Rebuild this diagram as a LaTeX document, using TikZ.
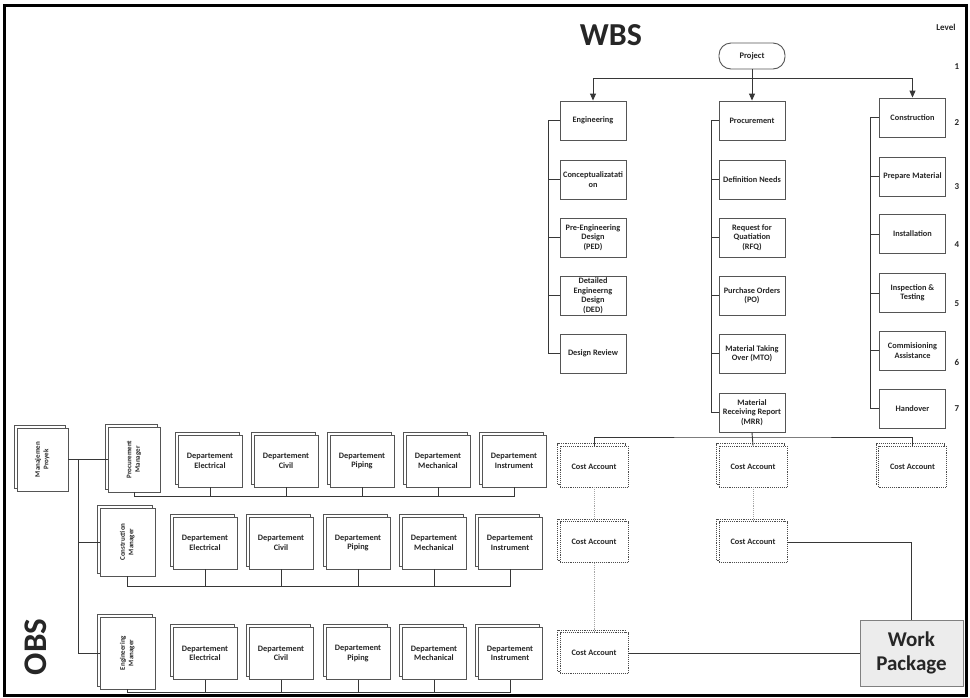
\documentclass[tikz,border=0pt]{standalone}
\usepackage{fontspec}
\setmainfont{Carlito}
\usepackage{graphicx}
\usepackage{tikz}
\usetikzlibrary{arrows.meta,shadows}
\definecolor{boxGray}{RGB}{85,85,85}
\definecolor{lineGray}{RGB}{55,55,55}
\definecolor{dotGray}{RGB}{165,165,165}
\definecolor{wpFill}{RGB}{236,236,236}
\newcommand{\vlabel}[1]{\rotatebox{90}{\begin{tabular}{@{}c@{}}#1\end{tabular}}}

\begin{document}
\begin{tikzpicture}[x=1pt, y=-1pt,
    every node/.style={font=\bfseries\fontsize{8.3}{9.5}\selectfont, text=black!85, align=center, inner sep=1pt},
    wbsbox/.style={draw=boxGray, line width=0.9pt, fill=white, minimum width=66pt, minimum height=39pt},
    pill/.style={draw=boxGray, line width=0.9pt, fill=white, rounded corners=12pt, minimum width=66pt, minimum height=26pt, font=\bfseries\fontsize{8.5}{10}\selectfont},
    deptbox/.style={draw=boxGray, line width=0.7pt, fill=white, minimum width=64pt, minimum height=52pt,
        copy shadow={shadow xshift=-3pt, shadow yshift=3pt, draw=boxGray, fill=white, line width=0.7pt}},
    mgrbox/.style={deptbox, font=\bfseries\fontsize{7}{8.5}\selectfont},
    cabox/.style={draw=black!70, densely dotted, line width=0.9pt, fill=white, minimum width=68pt, minimum height=41pt,
        copy shadow={shadow xshift=-2.5pt, shadow yshift=2.5pt, draw=black!70, densely dotted, fill=white, line width=0.9pt}},
    wpbox/.style={draw=gray, line width=1pt, fill=wpFill, minimum width=103pt, minimum height=66pt, font=\bfseries\fontsize{21}{24}\selectfont},
    conn/.style={draw=lineGray, line width=0.9pt},
    arr/.style={conn, -{Triangle[length=7pt, width=6pt]}},
    dotlink/.style={draw=dotGray, densely dotted, line width=0.9pt},
    level/.style={font=\bfseries\fontsize{9}{10}\selectfont}
]
\useasboundingbox (0,0) rectangle (970,697);
\draw[line width=3pt] (4,5) rectangle (966.5,695);

% WBS
\node[font=\bfseries\fontsize{32}{36}\selectfont] (wbs) at (611,35) {WBS};
\node[level] (lvl) at (946,27) {Level};
\foreach \y/\n in {67/1, 123/2, 187/3, 245/4, 304/5, 362/6, 409/7}
    \node[level] (lvl\n) at (957,\y) {\n};

\node[pill] (proj) at (752,56) {Project};

% Level 2
\node[wbsbox] (eng) at (593,120.5) {Engineering};
\node[wbsbox] (proc) at (752,120.5) {Procurement};
\node[wbsbox] (cons) at (912.5,117.5) {Construction};

% Engineering
\node[wbsbox] (engA) at (593,179.5) {Conceptualizatati\\on};
\node[wbsbox] (engB) at (593,237.5) {Pre-Engineering\\Design\\(PED)};
\node[wbsbox, inner sep=0pt] (engC) at (593,295.5) {Detailed\\Engineerng\\Design\\(DED)};
\node[wbsbox] (engD) at (593,353.5) {Design Review};

% Procurement
\node[wbsbox] (procA) at (752,179.5) {Definition Needs};
\node[wbsbox] (procB) at (752,237.5) {Request for\\Quatiation\\(RFQ)};
\node[wbsbox] (procC) at (752,295.5) {Purchase Orders\\(PO)};
\node[wbsbox] (procD) at (752,353.5) {Material Taking\\Over (MTO)};
\node[wbsbox] (procE) at (752,412.5) {Material\\Receiving Report\\(MRR)};

% Construction
\node[wbsbox] (consA) at (912.5,176.5) {Prepare Material};
\node[wbsbox] (consB) at (912.5,234) {Installation};
\node[wbsbox] (consC) at (912.5,293) {Inspection \&\\Testing};
\node[wbsbox] (consD) at (912.5,350.5) {Commisioning\\Assistance};
\node[wbsbox] (consE) at (912.5,408.5) {Handover};

\coordinate (wbsBus) at (752,78);
\draw[conn] (proj.south) -- (wbsBus);
\draw[arr] (wbsBus) -| (eng.north);
\draw[arr] (wbsBus) -- (proc.north);
\draw[arr] (wbsBus) -| (cons.north);

\coordinate (engSpine) at (548,0);
\coordinate (procSpine) at (711,0);
\coordinate (consSpine) at (870,0);
\draw[conn] (eng.west) -| (engSpine |- engD.west) -- (engD.west);
\foreach \n in {engA,engB,engC}
    \draw[conn] (\n.west) -- (engSpine |- \n.west);
\draw[conn] (proc.west) -| (procSpine |- procE.west) -- (procE.west);
\foreach \n in {procA,procB,procC,procD}
    \draw[conn] (\n.west) -- (procSpine |- \n.west);
\draw[conn] (cons.west) -| (consSpine |- consE.west) -- (consE.west);
\foreach \n in {consA,consB,consC,consD}
    \draw[conn] (\n.west) -- (consSpine |- \n.west);

% Cost accounts
\node[cabox] (ca11) at (594,466.5) {Cost Account};
\node[cabox] (ca12) at (753,466.5) {Cost Account};
\node[cabox] (ca13) at (912.5,466.5) {Cost Account};
\node[cabox] (ca21) at (594,542) {Cost Account};
\node[cabox] (ca22) at (753,542) {Cost Account};
\node[cabox] (ca31) at (594,653) {Cost Account};

\coordinate (caBus) at (752,437);
\draw[conn] (procE.south) -- (ca12.north);
\draw[conn] (ca11.north) |- (caBus) -| (ca13.north);
\draw[dotlink] (ca11.south) -- (ca21.north);
\draw[dotlink] (ca21.south) -- (ca31.north);
\draw[dotlink] (ca12.south) -- (ca22.north);

% Work package
\node[wpbox] (wp) at (911.5,653) {Work\\Package};
\draw[conn] (ca22.east) -| (wp.north);
\draw[conn] (ca31.east) -- (wp.west);

% OBS
\node[font=\bfseries\fontsize{33}{36}\selectfont, rotate=90] (obs) at (36,647) {OBS};
\node[mgrbox, minimum width=51pt, minimum height=63pt] (mp) at (42.5,459.5) {\vlabel{Manajemen\\Proyek}};
\node[mgrbox, minimum width=52pt, minimum height=65pt] (pm) at (134,459.5) {\vlabel{Procurement\\Manager}};
\node[mgrbox, minimum width=55pt, minimum height=68pt] (cm) at (127.5,542) {\vlabel{Construction\\Manager}};
\node[mgrbox, minimum width=55pt, minimum height=72pt] (em) at (127.5,653) {\vlabel{Engineering\\Manager}};

\coordinate (obsSpine) at (78,459.5);
\draw[conn] (mp.east) -- (pm.west);
\draw[conn] (obsSpine) |- (em.west);
\draw[conn] (obsSpine |- cm.west) -- (cm.west);

% Departements
\foreach \x/\n/\t in {210/1/Electrical, 286/2/Civil, 362/3/Piping, 438/4/Mechanical, 514/5/Instrument}
    \node[deptbox] (d1\n) at (\x,461) {Departement\\\t};
\foreach \x/\n/\t in {205/1/Electrical, 281/2/Civil, 358/3/Piping, 434/4/Mechanical, 510/5/Instrument}
    \node[deptbox] (d2\n) at (\x,543) {Departement\\\t};
\foreach \x/\n/\t in {205/1/Electrical, 281/2/Civil, 358/3/Piping, 434/4/Mechanical, 510/5/Instrument}
    \node[deptbox] (d3\n) at (\x,653.5) {Departement\\\t};

\coordinate (bus1) at (0,496);
\coordinate (bus2) at (0,586);
\coordinate (bus3) at (0,692);
\draw[conn] (pm.south) |- (d15.south |- bus1) -- (d15.south);
\draw[conn] (cm.south) |- (d25.south |- bus2) -- (d25.south);
\draw[conn] (em.south) |- (d35.south |- bus3) -- (d35.south);
\foreach \r in {1,2,3}
    \foreach \n in {1,...,4}
        \draw[conn] (d\r\n.south) -- (d\r\n.south |- bus\r);
\end{tikzpicture}
\end{document}
